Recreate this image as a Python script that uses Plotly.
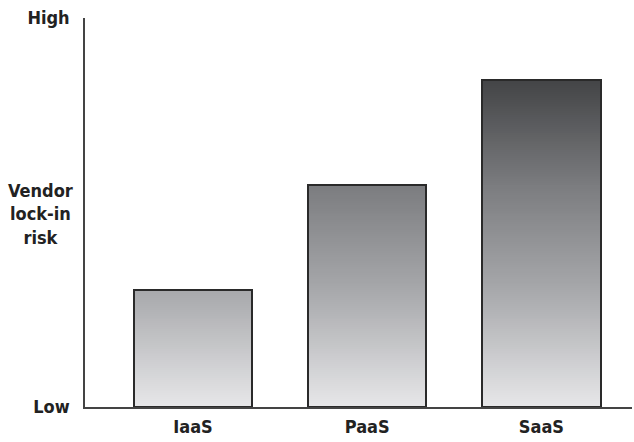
import plotly.graph_objects as go
import numpy as np

# Data
categories = ["IaaS", "PaaS", "SaaS"]
risk = [30, 57, 84]
y_tick_vals = [0, 100]
y_tick_text = ["Low", "High"]
axis_title = "Vendor<br>lock-in<br>risk"

FONT = "DejaVu Sans Condensed, Liberation Sans Narrow, Arial Narrow, sans-serif"

# Vertical gray ramp keyed to absolute height (light at bottom, dark at top)
ramp_pos = [0, 30, 57, 84, 100]
ramp_rgb = [(232, 232, 234), (168, 169, 172), (124, 125, 128), (68, 69, 71), (50, 51, 53)]


def shade(v):
    r = np.interp(v, ramp_pos, [c[0] for c in ramp_rgb])
    g = np.interp(v, ramp_pos, [c[1] for c in ramp_rgb])
    b = np.interp(v, ramp_pos, [c[2] for c in ramp_rgb])
    return f"rgb({int(r)},{int(g)},{int(b)})"


fig = go.Figure()

# Gradient fill: nested bars from the base, tallest first so each shorter one paints over it
step = 0.5
for cat, val in zip(categories, risk):
    levels = np.arange(val, 0, -step)
    fig.add_trace(go.Bar(
        x=[cat] * len(levels),
        y=levels,
        width=0.68,
        marker=dict(color=[shade(l) for l in levels], line=dict(width=0)),
        hoverinfo="skip",
        showlegend=False,
    ))

# Outline of each bar
fig.add_trace(go.Bar(
    x=categories,
    y=risk,
    width=0.68,
    marker=dict(color="rgba(0,0,0,0)", line=dict(color="#2a2a2a", width=2)),
    showlegend=False,
))

fig.add_annotation(
    text=axis_title, xref="paper", yref="y", x=-0.082, y=49.5, xanchor="center",
    yanchor="middle", showarrow=False, align="center",
    font=dict(family=FONT, size=18, color="#222222", weight="bold"),
)

fig.update_layout(
    width=634, height=442,
    margin=dict(l=85, r=2, t=18, b=35),
    paper_bgcolor="white", plot_bgcolor="white",
    barmode="overlay", bargap=0,
    font=dict(family=FONT, size=18, color="#222222"),
    xaxis=dict(
        range=[-0.62, 2.52], showgrid=False, zeroline=False,
        showline=True, linecolor="#444444", linewidth=2,
        ticks="", tickfont=dict(family=FONT, size=18, color="#222222", weight="bold"),
        ticklabelstandoff=2,
    ),
    yaxis=dict(
        range=[0, 100], showgrid=False, zeroline=False,
        showline=True, linecolor="#444444", linewidth=1.5,
        tickvals=y_tick_vals, ticktext=y_tick_text, ticks="",
        tickfont=dict(family=FONT, size=18, color="#222222", weight="bold"),
        ticklabelstandoff=10,
    ),
)

fig.write_html("out.html")
